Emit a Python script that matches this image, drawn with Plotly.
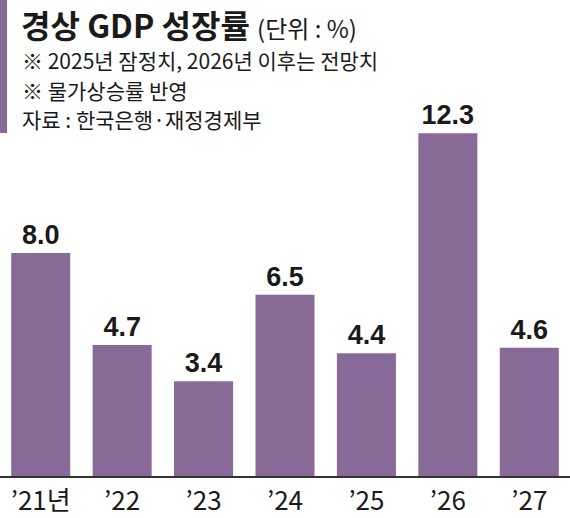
import plotly.graph_objects as go

categories = ["’21년", "’22", "’23", "’24", "’25", "’26", "’27"]
values = [8.0, 4.7, 3.4, 6.5, 4.4, 12.3, 4.6]
value_labels = ["8.0", "4.7", "3.4", "6.5", "4.4", "12.3", "4.6"]

title_main = "경상 GDP 성장률"
title_unit = "(단위 : %)"
notes = ["※ 2025년 잠정치, 2026년 이후는 전망치", "※ 물가상승률 반영", "자료 : 한국은행·재정경제부"]

W, H = 570, 518
T, B = 100, 42
PLOT_H = H - T - B
PX_PER_UNIT = 27.875
BAR_COLOR = "#886a98"
KR = "Noto Sans CJK KR"

def py(ypx):
    return (H - B - ypx) / PLOT_H

fig = go.Figure()
fig.add_trace(go.Bar(
    x=categories, y=values,
    marker=dict(color=BAR_COLOR, line=dict(width=0)),
    text=value_labels, textposition="outside", cliponaxis=False,
    textfont=dict(family="Liberation Sans, Arial", size=27, color="#1a1a1a", weight="bold"),
    width=0.725,
    hoverinfo="skip",
))

fig.add_annotation(xref="paper", yref="paper", x=20 / W, y=py(0), xanchor="left", yanchor="top",
                   showarrow=False, borderpad=0,
                   text=f"<b>{title_main}</b> <span style='font-size:24px;font-weight:normal'>{title_unit}</span>",
                   font=dict(family=KR, size=32, color="#1a1a1a"))
for i, (t, yc) in enumerate(zip(notes, [60, 90, 119])):
    fig.add_annotation(xref="paper", yref="paper", x=20 / W, y=py(yc), xanchor="left", yanchor="middle",
                       showarrow=False, text=t,
                       font=dict(family=KR, size=21, color="#1a1a1a"))

fig.add_shape(type="rect", xref="paper", yref="paper", x0=0, x1=7 / W, y0=py(133), y1=py(0),
              fillcolor=BAR_COLOR, line=dict(width=0), layer="above")

fig.update_layout(
    width=W, height=H,
    margin=dict(l=0, r=0, t=T, b=B, pad=0, autoexpand=False),
    paper_bgcolor="white", plot_bgcolor="white",
    showlegend=False,
    xaxis=dict(showgrid=False, zeroline=False, showline=True, linecolor="#333333", linewidth=1.5,
               ticks="", range=[-0.5, 6.5], ticklabelstandoff=1, automargin=False,
               tickfont=dict(family="Liberation Sans Narrow, " + KR, size=26, color="#1a1a1a")),
    yaxis=dict(visible=False, range=[0, PLOT_H / PX_PER_UNIT], fixedrange=True, automargin=False),
)

fig.write_html("out.html")
